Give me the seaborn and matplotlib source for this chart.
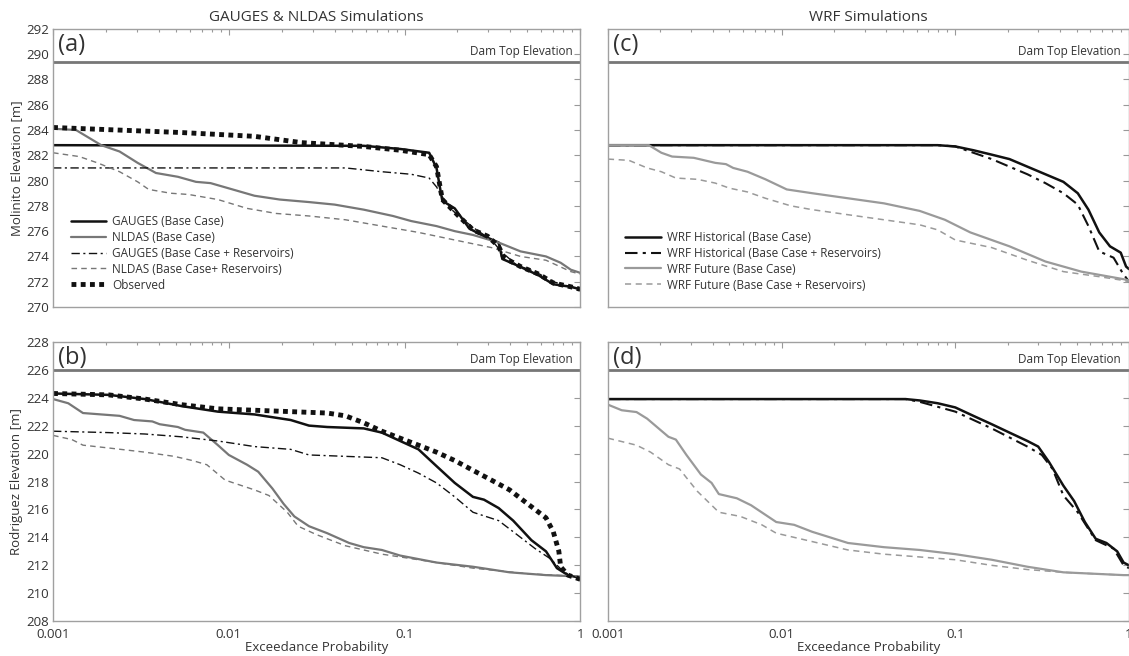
import numpy as np
import matplotlib
matplotlib.use("Agg")
import matplotlib.pyplot as plt
import matplotlib.ticker as mticker
import seaborn as sns

# ---- panel (a): Molinito, GAUGES & NLDAS ----
a_gauges_p = [0.001, 0.0586, 0.0944, 0.138, 0.152, 0.164, 0.193, 0.234, 0.283, 0.343, 0.36, 0.436, 0.58, 0.702, 0.883, 1.0]
a_gauges_z = [282.8, 282.75, 282.5, 282.2, 281.0, 278.4, 277.8, 276.2, 275.6, 275.1, 273.8, 273.3, 272.5, 271.8, 271.6, 271.4]
a_nldas_p = [0.001, 0.00135, 0.00188, 0.00239, 0.00303, 0.00385, 0.00513, 0.0065, 0.00787, 0.0105, 0.014, 0.0195, 0.0286,
             0.04, 0.0586, 0.0859, 0.109, 0.152, 0.193, 0.245, 0.343, 0.457, 0.638, 0.773, 0.883, 1.0]
a_nldas_z = [284.1, 284.0, 282.8, 282.3, 281.4, 280.6, 280.3, 279.9, 279.8, 279.3, 278.8, 278.5, 278.3,
             278.1, 277.7, 277.2, 276.8, 276.4, 276.0, 275.7, 275.1, 274.4, 274.0, 273.5, 272.95, 272.7]
a_gres_p = [0.001, 0.0461, 0.0743, 0.109, 0.138, 0.152, 0.176, 0.203, 0.245, 0.312, 0.36, 0.436, 0.553, 0.702, 0.883, 1.0]
a_gres_z = [281.0, 281.0, 280.7, 280.5, 280.2, 279.5, 278.0, 277.2, 276.3, 275.3, 274.3, 273.3, 272.8, 272.0, 271.6, 271.4]
a_nres_p = [0.001, 0.00141, 0.00179, 0.00239, 0.00303, 0.0035, 0.00466, 0.00591, 0.00867, 0.0127, 0.0186, 0.0286, 0.0461,
            0.0743, 0.12, 0.193, 0.312, 0.457, 0.638, 0.883, 1.0]
a_nres_z = [282.2, 281.9, 281.4, 280.7, 279.9, 279.3, 279.0, 278.9, 278.5, 277.8, 277.4, 277.2, 276.9,
            276.4, 275.9, 275.3, 274.7, 274.0, 273.7, 272.8, 272.6]
a_obs_p = [0.001, 0.00537, 0.014, 0.026, 0.0586, 0.0944, 0.138, 0.152, 0.164, 0.203, 0.245, 0.297, 0.343, 0.368, 0.457,
           0.58, 0.702, 0.883, 1.0]
a_obs_z = [284.2, 283.8, 283.5, 283.0, 282.7, 282.4, 282.05, 281.1, 278.5, 277.2, 276.1, 275.6, 274.8, 273.9, 273.2,
           272.6, 271.9, 271.6, 271.4]

# ---- panel (b): Rodriguez, GAUGES & NLDAS ----
b_obs_p = [0.001, 0.00207, 0.00333, 0.00537, 0.00867, 0.014, 0.0225, 0.0363, 0.0461, 0.0586, 0.0743, 0.0944, 0.12, 0.152,
           0.193, 0.245, 0.312, 0.396, 0.502, 0.638, 0.702, 0.755, 0.773, 0.85, 1.0]
b_obs_z = [224.3, 224.2, 223.9, 223.5, 223.2, 223.1, 223.0, 222.9, 222.7, 222.2, 221.6, 221.1, 220.6, 220.1,
           219.5, 218.8, 218.1, 217.4, 216.4, 215.4, 214.4, 213.0, 211.9, 211.3, 211.0]
b_gauges_p = [0.001, 0.00207, 0.00333, 0.00537, 0.00867, 0.014, 0.0225, 0.0286, 0.0363, 0.0586, 0.0743, 0.0944, 0.12,
              0.152, 0.193, 0.245, 0.283, 0.343, 0.415, 0.527, 0.638, 0.736, 0.85, 1.0]
b_gauges_z = [224.3, 224.2, 223.9, 223.4, 223.0, 222.8, 222.4, 222.0, 221.9, 221.8, 221.5, 220.9, 220.3,
              219.1, 217.9, 216.9, 216.7, 216.1, 215.2, 213.8, 213.0, 211.8, 211.3, 211.1]
b_nldas_p = [0.001, 0.00122, 0.00148, 0.00188, 0.00239, 0.00289, 0.00367, 0.00404, 0.00513, 0.00564, 0.00716, 0.00867,
             0.01, 0.0127, 0.0147, 0.0177, 0.0205, 0.0236, 0.0286, 0.0363, 0.0484, 0.0586, 0.0743, 0.0944, 0.152,
             0.245, 0.396, 0.638, 1.0]
b_nldas_z = [223.9, 223.6, 222.9, 222.8, 222.7, 222.4, 222.3, 222.1, 221.9, 221.7, 221.5, 220.6,
             219.9, 219.2, 218.7, 217.5, 216.4, 215.5, 214.8, 214.3, 213.6, 213.3, 213.1, 212.7, 212.2,
             211.9, 211.5, 211.3, 211.2]
b_gres_p = [0.001, 0.00207, 0.00333, 0.00537, 0.00867, 0.014, 0.0225, 0.0286, 0.0461, 0.0743, 0.0944, 0.12, 0.152,
            0.193, 0.245, 0.343, 0.436, 0.553, 0.67, 0.811, 1.0]
b_gres_z = [221.6, 221.5, 221.4, 221.2, 220.9, 220.5, 220.3, 219.9, 219.8, 219.7, 219.2, 218.6, 217.9,
            216.9, 215.8, 215.2, 214.2, 213.2, 212.5, 211.5, 211.0]
b_nres_p = [0.001, 0.00128, 0.00148, 0.00207, 0.00333, 0.00489, 0.00621, 0.0075, 0.00953, 0.014, 0.0169, 0.0215,
            0.0248, 0.0315, 0.0461, 0.0743, 0.12, 0.245, 0.502, 1.0]
b_nres_z = [221.3, 221.0, 220.6, 220.4, 220.1, 219.8, 219.5, 219.2, 218.1, 217.4, 217.0, 215.8,
            214.8, 214.2, 213.4, 212.8, 212.4, 211.8, 211.4, 211.2]

# ---- panel (c): Molinito, WRF ----
c_hist_p = [0.001, 0.0792, 0.1, 0.127, 0.162, 0.205, 0.26, 0.33, 0.419, 0.507, 0.584, 0.674, 0.777, 0.896, 0.962, 1.0]
c_hist_z = [282.8, 282.8, 282.7, 282.4, 282.05, 281.7, 281.1, 280.5, 279.9, 279.0, 277.7, 275.9, 274.8, 274.3, 273.2, 273.0]
c_hres_p = [0.001, 0.0792, 0.1, 0.127, 0.162, 0.205, 0.26, 0.33, 0.419, 0.507, 0.584, 0.674, 0.815, 0.918, 1.0]
c_hres_z = [282.8, 282.8, 282.7, 282.2, 281.7, 281.1, 280.5, 279.8, 279.0, 278.1, 276.4, 274.4, 273.9, 272.7, 272.0]
c_fut_p = [0.001, 0.00172, 0.00203, 0.00234, 0.00312, 0.00415, 0.00478, 0.00526, 0.00636, 0.00807, 0.0107, 0.015,
           0.0241, 0.0388, 0.0624, 0.0871, 0.122, 0.205, 0.33, 0.531, 0.931, 1.0]
c_fut_z = [282.8, 282.8, 282.2, 281.9, 281.8, 281.4, 281.3, 281.0, 280.7, 280.1, 279.3, 279.0,
           278.6, 278.2, 277.6, 276.9, 275.9, 274.8, 273.6, 272.8, 272.2, 272.1]
c_fres_p = [0.001, 0.00132, 0.00168, 0.00203, 0.00246, 0.00327, 0.00415, 0.00501, 0.00636, 0.00807, 0.0113, 0.015,
            0.0241, 0.0388, 0.0624, 0.0792, 0.1, 0.162, 0.26, 0.419, 0.674, 0.931, 1.0]
c_fres_z = [281.7, 281.6, 281.0, 280.7, 280.2, 280.1, 279.8, 279.4, 279.1, 278.6, 278.0, 277.7,
            277.3, 276.9, 276.5, 276.1, 275.3, 274.7, 273.7, 272.8, 272.4, 272.1, 272.0]

# ---- panel (d): Rodriguez, WRF ----
d_hist_p = [0.001, 0.0516, 0.0624, 0.0792, 0.1, 0.127, 0.162, 0.205, 0.26, 0.3, 0.346, 0.419, 0.483, 0.557, 0.643,
            0.741, 0.855, 0.931, 1.0]
d_hist_z = [223.9, 223.9, 223.8, 223.6, 223.3, 222.7, 222.1, 221.5, 220.9, 220.5, 219.4, 217.7, 216.6, 215.1, 213.9,
            213.6, 213.0, 212.2, 212.0]
d_hres_p = [0.001, 0.0516, 0.0624, 0.1, 0.162, 0.26, 0.315, 0.363, 0.419, 0.507, 0.584, 0.643, 0.815, 0.931, 1.0]
d_hres_z = [223.9, 223.9, 223.7, 223.0, 221.8, 220.5, 219.9, 218.9, 217.0, 215.8, 214.6, 213.8, 213.2, 212.0, 211.8]
d_fut_p = [0.001, 0.0012, 0.00146, 0.00168, 0.00223, 0.00246, 0.00283, 0.00343, 0.00395, 0.00435, 0.00552, 0.00667,
           0.00931, 0.0118, 0.015, 0.0241, 0.0388, 0.0624, 0.1, 0.162, 0.26, 0.419, 0.931, 1.0]
d_fut_z = [223.5, 223.1, 222.97, 222.5, 221.2, 221.0, 219.9, 218.5, 217.9, 217.1, 216.8, 216.3,
           215.1, 214.9, 214.4, 213.6, 213.3, 213.1, 212.8, 212.4, 211.9, 211.5, 211.3, 211.3]
d_fres_p = [0.001, 0.00146, 0.00176, 0.00223, 0.00258, 0.00327, 0.00435, 0.00579, 0.00769, 0.00931, 0.015, 0.0241,
            0.0388, 0.0624, 0.1, 0.162, 0.26, 0.419, 0.931, 1.0]
d_fres_z = [221.1, 220.6, 220.1, 219.2, 218.9, 217.3, 215.8, 215.5, 214.9, 214.3, 213.7, 213.1,
            212.8, 212.6, 212.4, 212.0, 211.7, 211.5, 211.3, 211.3]

dam_top_molinito = 289.4
dam_top_rodriguez = 226.0

x_tick_vals = [0.001, 0.01, 0.1, 1]
x_tick_labels = ["0.001", "0.01", "0.1", "1"]

sns.set_style("white")
plt.rcParams['font.family'] = ['Open Sans', 'DejaVu Sans']
plt.rcParams['text.color'] = '#333333'
plt.rcParams['axes.labelcolor'] = '#333333'
plt.rcParams['xtick.color'] = '#333333'
plt.rcParams['ytick.color'] = '#333333'

fig = plt.figure(figsize=(11.29, 6.56), dpi=100)
ax_a = fig.add_axes([0.047, 0.532, 0.467, 0.424])
ax_b = fig.add_axes([0.047, 0.053, 0.467, 0.426])
ax_c = fig.add_axes([0.5385, 0.532, 0.4615, 0.424])
ax_d = fig.add_axes([0.5385, 0.053, 0.4615, 0.426])

BLACK = '#111111'
GREY = '#777777'
LGREY = '#9a9a9a'
DOTDASH = (0, (6, 2.5, 1.5, 2.5))
DASH = (0, (4, 3))
OBS = (0, (1, 0.9))


def draw(ax, p, z, color, ls, lw, label):
    sns.lineplot(x=p, y=z, ax=ax, color=color, linestyle=ls, linewidth=lw,
                 label=label, sort=False, estimator=None)


draw(ax_a, a_gauges_p, a_gauges_z, BLACK, '-', 1.8, 'GAUGES (Base Case)')
draw(ax_a, a_nldas_p, a_nldas_z, GREY, '-', 1.6, 'NLDAS (Base Case)')
draw(ax_a, a_gres_p, a_gres_z, BLACK, DOTDASH, 1.0, 'GAUGES (Base Case + Reservoirs)')
draw(ax_a, a_nres_p, a_nres_z, GREY, DASH, 1.0, 'NLDAS (Base Case+ Reservoirs)')
draw(ax_a, a_obs_p, a_obs_z, BLACK, OBS, 3.5, 'Observed')

draw(ax_b, b_gauges_p, b_gauges_z, BLACK, '-', 1.8, None)
draw(ax_b, b_nldas_p, b_nldas_z, GREY, '-', 1.6, None)
draw(ax_b, b_gres_p, b_gres_z, BLACK, DOTDASH, 1.0, None)
draw(ax_b, b_nres_p, b_nres_z, GREY, DASH, 1.0, None)
draw(ax_b, b_obs_p, b_obs_z, BLACK, OBS, 3.5, None)

draw(ax_c, c_hist_p, c_hist_z, BLACK, '-', 1.8, 'WRF Historical (Base Case)')
draw(ax_c, c_hres_p, c_hres_z, BLACK, DOTDASH, 1.5, 'WRF Historical (Base Case + Reservoirs)')
draw(ax_c, c_fut_p, c_fut_z, LGREY, '-', 1.6, 'WRF Future (Base Case)')
draw(ax_c, c_fres_p, c_fres_z, LGREY, DASH, 1.1, 'WRF Future (Base Case + Reservoirs)')

draw(ax_d, d_hist_p, d_hist_z, BLACK, '-', 1.8, None)
draw(ax_d, d_hres_p, d_hres_z, BLACK, DOTDASH, 1.5, None)
draw(ax_d, d_fut_p, d_fut_z, LGREY, '-', 1.6, None)
draw(ax_d, d_fres_p, d_fres_z, LGREY, DASH, 1.1, None)

panels = [(ax_a, '(a)', dam_top_molinito, (270, 292)),
          (ax_b, '(b)', dam_top_rodriguez, (208, 228)),
          (ax_c, '(c)', dam_top_molinito, (270, 292)),
          (ax_d, '(d)', dam_top_rodriguez, (208, 228))]

for ax, tag, dam, ylim in panels:
    ax.axhline(dam, color=GREY, lw=2.0)
    ax.text(0.985, dam + 0.012 * (ylim[1] - ylim[0]), 'Dam Top Elevation', transform=ax.get_yaxis_transform(),
            ha='right', va='bottom', fontsize=8.5)
    ax.text(0.01, 0.985, tag, transform=ax.transAxes, ha='left', va='top', fontsize=17)
    ax.set_xscale('log')
    ax.set_xlim(0.001, 1)
    ax.set_ylim(*ylim)
    ax.set_yticks(np.arange(ylim[0], ylim[1] + 1, 2))
    ax.xaxis.set_major_locator(mticker.FixedLocator(x_tick_vals))
    ax.xaxis.set_major_formatter(mticker.FixedFormatter(x_tick_labels))
    ax.xaxis.set_minor_locator(mticker.LogLocator(base=10, subs=np.arange(2, 10), numticks=20))
    ax.xaxis.set_minor_formatter(mticker.NullFormatter())
    ax.tick_params(which='both', direction='in', top=True, right=True, colors='#999999',
                   labelcolor='#333333', labelsize=9.5, pad=3)
    ax.tick_params(axis='x', which='major', pad=5)
    ax.tick_params(which='major', length=4, width=0.8)
    ax.tick_params(which='minor', length=2.5, width=0.8)
    for s in ax.spines.values():
        s.set_color('#a0a0a0')
        s.set_linewidth(1.0)
    ax.set_xlabel('')
    ax.set_ylabel('')

for ax in (ax_a, ax_c):
    ax.tick_params(labelbottom=False)
for ax in (ax_c, ax_d):
    ax.tick_params(labelleft=False)

ax_a.set_ylabel('Molinito Elevation [m]', fontsize=9.5, labelpad=2)
ax_b.set_ylabel('Rodriguez Elevation [m]', fontsize=9.5, labelpad=2)
ax_b.set_xlabel('Exceedance Probability', fontsize=9.5, labelpad=0)
ax_d.set_xlabel('Exceedance Probability', fontsize=9.5, labelpad=0)
ax_a.set_title('GAUGES & NLDAS Simulations', fontsize=11, pad=6)
ax_c.set_title('WRF Simulations', fontsize=11, pad=6)

for ax in (ax_a, ax_c):
    ax.legend(loc='lower left', bbox_to_anchor=(0.02, 0.03), frameon=False, fontsize=8.5,
              handlelength=3.0, handletextpad=0.5, labelspacing=0.25, borderaxespad=0.2)

fig.savefig('out.png', dpi=100)
